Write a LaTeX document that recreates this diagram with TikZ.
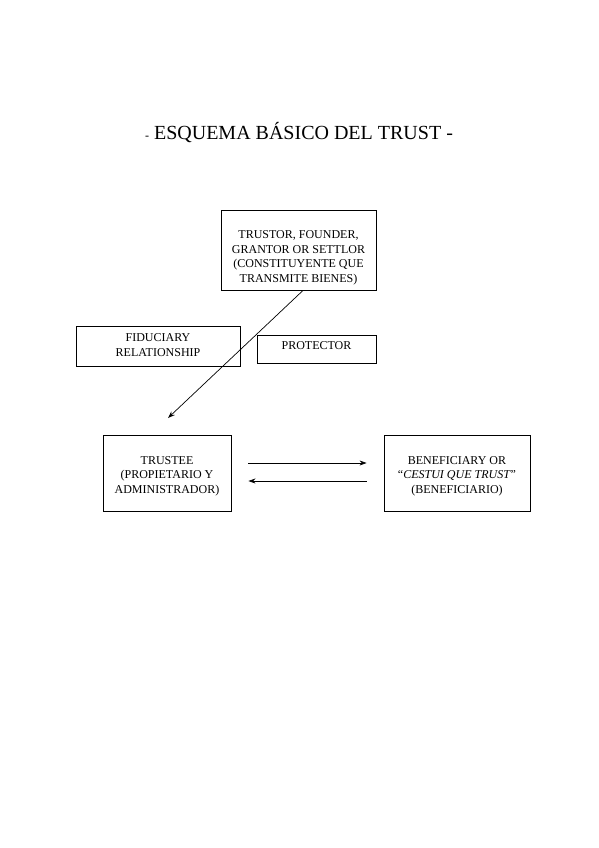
\documentclass[tikz,border=0pt]{standalone}
\usepackage{fontspec}
\setmainfont{Liberation Serif}
\usetikzlibrary{positioning, arrows.meta}
\tikzset{
caja/.style = {rectangle, draw = black, line width = 0.9pt, inner sep = 0pt},
texto/.style = {align = center, font = \fontsize{12}{14.5}\selectfont, inner sep = 0pt},
flecha/.style = {-{Stealth[length = 7pt, width = 5pt]}, line width = 0.7pt}
}

\begin{document}
\begin{tikzpicture}[x = 1pt, y = -1pt]
      \useasboundingbox (0, 0) rectangle (599, 848);
      % titulo
      \node[inner sep = 0pt, font = \fontsize{20}{22}\selectfont] (titulo) at (299, 133) {{\fontsize{12}{12}\selectfont -} ESQUEMA BÁSICO DEL TRUST -};
      % cajas
      \node[caja, minimum width = 155pt, minimum height = 80pt] (trustor) at (298.5, 250) {};
      \node[caja, minimum width = 164pt, minimum height = 40pt] (fiduciary) at (158, 346) {};
      \node[caja, minimum width = 119pt, minimum height = 28pt] (protector) at (316.5, 349) {};
      \node[caja, minimum width = 128pt, minimum height = 76pt] (trustee) at (167, 473) {};
      \node[caja, minimum width = 146pt, minimum height = 76pt] (beneficiary) at (457, 473) {};
      % textos
      \node[texto] (trustor texto) at (298.5, 258) {TRUSTOR, FOUNDER,\\GRANTOR OR SETTLOR\\(CONSTITUYENTE QUE\\TRANSMITE BIENES)};
      \node[texto] (fiduciary texto) at (158, 345) {FIDUCIARY\\RELATIONSHIP};
      \node[texto] (protector texto) at (316.5, 346) {PROTECTOR};
      \node[texto] (trustee texto) at (167, 476) {TRUSTEE\\(PROPIETARIO Y\\ADMINISTRADOR)};
      \node[texto] (beneficiary texto) at (457, 476) {BENEFICIARY OR\\``\textit{CESTUI QUE TRUST}''\\(BENEFICIARIO)};
      % flechas
      \coordinate (llegada) at (168, 418);
      \draw[flecha] ([xshift = 4.5pt]trustor.south) -- (llegada);
      \draw[flecha] ([xshift = 17pt, yshift = 10pt]trustee.east) -- ([xshift = -17pt, yshift = 10pt]beneficiary.west);
      \draw[flecha] ([xshift = -17pt, yshift = -8pt]beneficiary.west) -- ([xshift = 17pt, yshift = -8pt]trustee.east);
\end{tikzpicture}
\end{document}
